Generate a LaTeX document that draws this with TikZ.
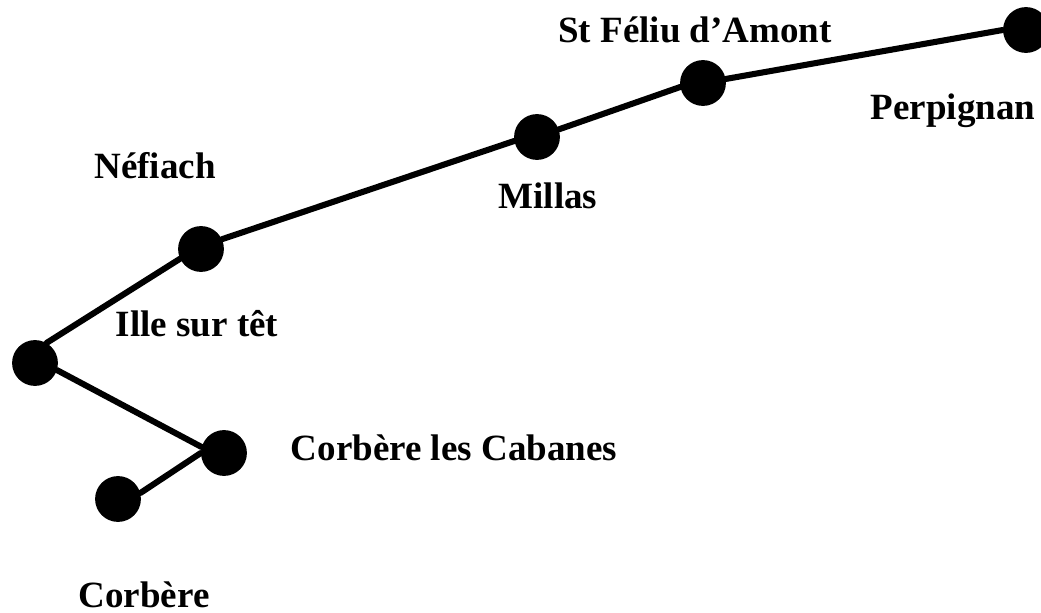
\documentclass[tikz,border=0pt]{standalone}
\usepackage{fontspec}
\setmainfont{Liberation Serif}
\tikzset{
  stop/.style={circle, fill=black, inner sep=0pt, minimum size=1.21cm},
  ligne/.style={line width=1.6mm, line cap=round},
  nom/.style={font=\bfseries\fontsize{27.8}{32}\selectfont, anchor=base, inner sep=0pt}
}
\begin{document}
\begin{tikzpicture}[x=0.0264cm,y=-0.0264cm]
  \useasboundingbox (0,0) rectangle (1041,613);
  \node[stop] (perpignan) at (1026,30){};
  \node[stop] (stfeliu) at (703,83){};
  \node[stop] (millas) at (537,137){};
  \node[stop] (nefiach) at (201,249){};
  \node[stop] (ille) at (35,363){};
  \node[stop] (cabanes) at (224,453){};
  \node[stop] (corbere) at (118,499){};

  \foreach \a/\b in {perpignan.180/stfeliu, stfeliu.190/millas, millas.190/nefiach.25,
                     nefiach.205/ille.60, ille.-18/cabanes.165, cabanes.180/corbere.15}
  {
    \draw[ligne] (\a) -- (\b);
  }

  \node[nom] (l1) at (695,43){St Féliu d’Amont};
  \node[nom] (l2) at (953,120){Perpignan};
  \node[nom] (l3) at (155,179){Néfiach};
  \node[nom] (l4) at (548,209){Millas};
  \node[nom] (l5) at (197,337){Ille sur têt};
  \node[nom] (l6) at (454,461){Corbère les Cabanes};
  \node[nom] (l7) at (144,608){Corbère};
\end{tikzpicture}
\end{document}
